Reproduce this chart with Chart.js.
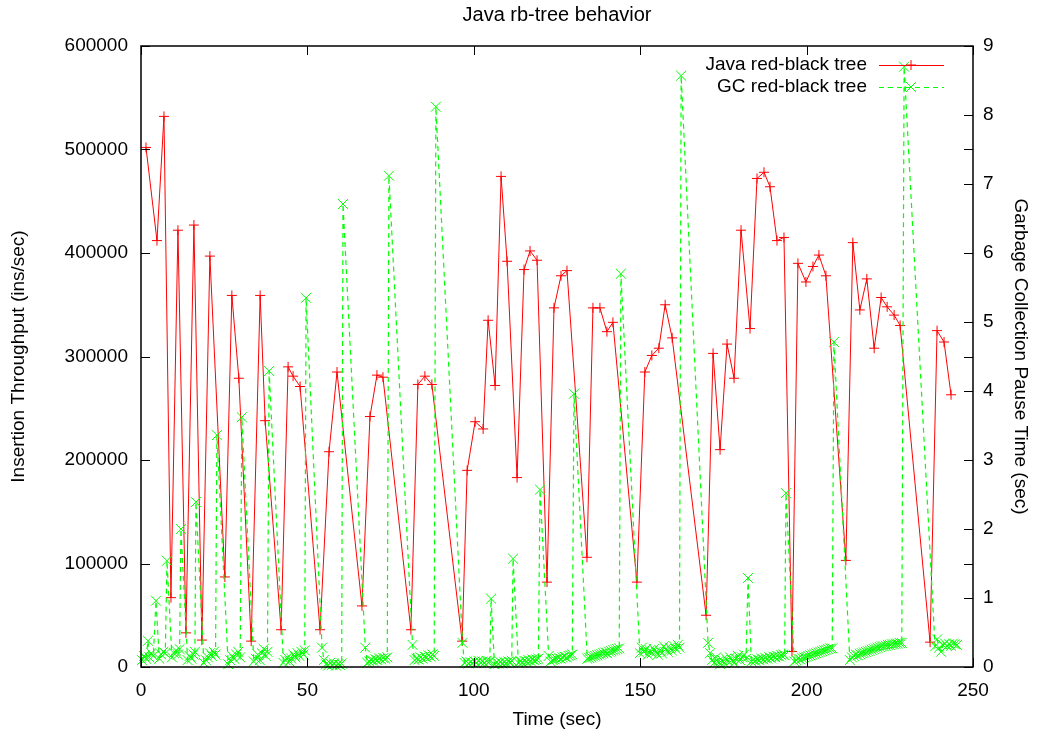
<!DOCTYPE html>
<html>
<head>
<meta charset="utf-8">
<script src="https://cdn.jsdelivr.net/npm/chart.js@4.4.1/dist/chart.umd.min.js"></script>
<style>
  html, body { margin: 0; padding: 0; background: #fff; }
  #wrap { width: 1039px; height: 731px; }
</style>
</head>
<body>
<div id="wrap"><canvas id="rbtree"></canvas></div>
<script>
// Java red-black tree: time (sec) and insertion throughput (ins/sec)
const javaTime = [1.5, 4.8, 6.9, 9.0, 11.1, 13.5, 15.9, 18.3, 20.7, 25.2, 27.3, 29.4, 33.1, 35.8, 37.3,
  42.1, 44.2, 45.7, 47.8, 53.8, 56.5, 58.9, 66.4, 68.8, 70.9, 72.7, 81.1, 83.2, 85.3, 87.4,
  96.5, 98.0, 100.4, 102.8, 104.3, 106.4, 108.2, 110.0, 113.0, 115.1, 116.9, 119.0, 122.0, 124.1, 126.2, 128.0,
  134.0, 135.8, 137.9, 140.0, 141.8, 149.0, 151.4, 153.5, 155.6, 157.5, 159.6,
  169.8, 171.9, 174.0, 176.1, 178.2, 180.3, 183.0, 185.1, 187.2, 189.0, 191.1, 193.2, 195.6, 197.4, 199.8,
  201.9, 203.7, 205.8, 211.8, 213.9, 216.0, 218.1, 220.3, 222.4, 224.2, 226.3, 228.1, 237.1, 239.2, 241.3, 243.4];
const javaThroughput = [502000, 412000, 532000, 67000, 422000, 33000, 427000, 26000, 397000, 87000, 359000, 279000, 25000, 359000, 238000,
  36000, 290000, 281000, 271000, 36000, 208000, 285000, 59000, 242000, 282000, 280000, 36000, 273000, 281000, 273000,
  25000, 190000, 237000, 230000, 335000, 272000, 474000, 392000, 183000, 384000, 402000, 393000, 82000, 347000, 378000, 383000,
  106000, 347000, 347000, 324000, 333000, 82000, 285000, 301000, 308000, 350000, 318000,
  50000, 303000, 210000, 312000, 279000, 422000, 327000, 472000, 478000, 464000, 412000, 415000, 15000, 390000, 372000,
  387000, 398000, 378000, 103000, 410000, 345000, 375000, 308000, 357000, 348000, 340000, 330000, 24000, 325000, 314000, 263000];

// GC red-black tree: time (sec) and pause time (sec)
const gcTime = [0.3, 0.9, 1.5, 2.1, 2.5, 3.1, 3.7, 4.5, 5.5, 6.1, 6.7, 7.3, 7.8,
  9.3, 9.9, 10.5, 11.1, 11.6, 12.0, 14.0, 14.6, 15.2, 15.8, 16.2, 16.5,
  18.9, 19.5, 20.1, 20.7, 21.3, 21.9, 22.4, 22.8, 26.2, 26.8, 27.4, 28.0, 28.6, 29.2, 29.8, 30.3,
  33.9, 34.5, 35.1, 35.7, 36.3, 36.9, 37.5, 38.0, 38.5,
  42.8, 43.4, 44.0, 44.6, 45.2, 45.8, 46.4, 47.0, 47.6, 48.2, 48.8, 49.2, 49.6,
  54.4, 55.0, 55.6, 56.2, 56.8, 57.4, 58.0, 58.6, 59.2, 59.8, 60.3, 60.7,
  67.4, 68.0, 68.6, 69.2, 69.8, 70.4, 71.0, 71.6, 72.2, 72.8, 73.4, 74.0, 74.5,
  81.6, 82.2, 82.8, 83.4, 84.0, 84.6, 85.2, 85.8, 86.4, 87.0, 87.6, 88.1, 88.6,
  96.6, 97.2, 97.8, 98.4, 99.0, 99.6, 100.2, 100.8, 101.4, 102.0, 102.6, 103.2, 103.8, 104.4, 104.8, 105.2,
  106.2, 106.8, 107.4, 108.0, 108.6, 109.2, 109.8, 110.4, 111.0, 111.4, 111.8,
  113.4, 114.0, 114.6, 115.2, 115.8, 116.4, 117.0, 117.6, 118.2, 118.8, 119.4, 119.9,
  122.5, 123.1, 123.7, 124.3, 124.9, 125.5, 126.1, 126.7, 127.3, 127.9, 128.5, 129.1, 129.6, 130.1,
  134.1, 134.7, 135.3, 135.9, 136.5, 137.1, 137.7, 138.3, 138.9, 139.5, 140.1, 140.7, 141.3, 141.9, 142.5, 143.1, 143.7, 144.2,
  149.9, 150.5, 151.1, 151.7, 152.3, 152.9, 153.5, 154.1, 154.7, 155.3, 155.9, 156.5, 157.1, 157.7, 158.3, 158.9, 159.5, 160.1, 160.7, 161.3, 161.8, 162.3,
  170.4, 171.0, 171.6, 172.2, 172.8, 173.4, 174.0, 174.6, 175.2, 175.8, 176.4, 177.0, 177.6, 178.2, 178.8, 179.4, 180.0, 180.6, 181.2, 181.8, 182.4,
  183.4, 184.0, 184.6, 185.2, 185.8, 186.4, 187.0, 187.6, 188.2, 188.8, 189.4, 190.0, 190.6, 191.2, 191.8, 192.4, 193.0, 193.4, 193.8,
  196.3, 196.9, 197.5, 198.1, 198.7, 199.3, 199.9, 200.5, 201.1, 201.7, 202.3, 202.9, 203.5, 204.1, 204.7, 205.3, 205.9, 206.5, 207.1, 207.7, 208.2,
  213.0, 213.6, 214.2, 214.8, 215.4, 216.0, 216.6, 217.2, 217.8, 218.4, 219.0, 219.6, 220.2, 220.8, 221.4, 222.0, 222.6, 223.2, 223.8, 224.4, 225.0, 225.6, 226.2, 226.8, 227.4, 228.0, 228.6, 229.3,
  238.6, 239.2, 239.8, 240.4, 241.0, 241.6, 242.2, 242.8, 243.4, 244.0, 244.6, 245.2];
const gcPause = [0.10, 0.16, 0.12, 0.38, 0.14, 0.20, 0.16, 0.96, 0.12, 0.18, 0.22, 0.20, 1.54,
  0.14, 0.20, 0.24, 0.18, 0.26, 2.00, 0.10, 0.16, 0.12, 0.18, 0.22, 2.39,
  0.06, 0.10, 0.14, 0.20, 0.16, 0.22, 0.18, 3.36, 0.04, 0.10, 0.16, 0.12, 0.18, 0.22, 0.14, 3.62,
  0.08, 0.12, 0.18, 0.10, 0.20, 0.26, 0.16, 0.22, 4.29,
  0.06, 0.10, 0.14, 0.08, 0.12, 0.18, 0.14, 0.20, 0.16, 0.22, 0.18, 0.24, 5.35,
  0.28, 0.10, 0.04, 0.02, 0.06, 0.03, 0.05, 0.02, 0.04, 0.03, 0.05, 6.71,
  0.28, 0.06, 0.08, 0.10, 0.09, 0.11, 0.10, 0.12, 0.11, 0.13, 0.12, 0.14, 7.12,
  0.32, 0.10, 0.12, 0.11, 0.14, 0.12, 0.15, 0.14, 0.17, 0.15, 0.18, 0.16, 8.12,
  0.35, 0.06, 0.08, 0.05, 0.07, 0.06, 0.08, 0.06, 0.09, 0.07, 0.08, 0.06, 0.09, 0.07, 0.08, 0.99,
  0.04, 0.06, 0.05, 0.07, 0.05, 0.07, 0.06, 0.08, 0.07, 0.09, 1.57,
  0.06, 0.08, 0.07, 0.09, 0.08, 0.10, 0.09, 0.11, 0.10, 0.11, 0.12, 2.57,
  0.16, 0.08, 0.10, 0.11, 0.12, 0.13, 0.12, 0.14, 0.15, 0.14, 0.16, 0.17, 0.18, 3.96,
  0.12, 0.13, 0.14, 0.15, 0.16, 0.17, 0.18, 0.19, 0.20, 0.21, 0.20, 0.22, 0.23, 0.24, 0.25, 0.26, 0.27, 5.70,
  0.20, 0.28, 0.22, 0.26, 0.18, 0.24, 0.20, 0.26, 0.22, 0.18, 0.24, 0.20, 0.30, 0.26, 0.22, 0.28, 0.24, 0.30, 0.26, 0.32, 0.28, 8.57,
  0.35, 0.20, 0.10, 0.06, 0.14, 0.08, 0.04, 0.10, 0.06, 0.12, 0.08, 0.14, 0.10, 0.06, 0.12, 0.16, 0.10, 0.14, 0.18, 0.12, 1.29,
  0.08, 0.10, 0.09, 0.11, 0.10, 0.12, 0.11, 0.13, 0.12, 0.14, 0.13, 0.15, 0.14, 0.16, 0.15, 0.17, 0.18, 0.17, 2.52,
  0.08, 0.10, 0.12, 0.11, 0.13, 0.14, 0.15, 0.16, 0.17, 0.18, 0.19, 0.20, 0.21, 0.22, 0.23, 0.24, 0.25, 0.26, 0.27, 0.27, 4.71,
  0.10, 0.14, 0.16, 0.18, 0.17, 0.19, 0.20, 0.21, 0.22, 0.23, 0.24, 0.25, 0.26, 0.27, 0.28, 0.29, 0.30, 0.30, 0.31, 0.32, 0.32, 0.33, 0.33, 0.34, 0.34, 0.35, 0.35, 8.70,
  0.30, 0.40, 0.28, 0.22, 0.32, 0.34, 0.30, 0.33, 0.31, 0.34, 0.33, 0.32];

const TITLE = 'Java rb-tree behavior';
const FONT = 'Liberation Sans, Arial, Helvetica, sans-serif';
const TXT = '#000';

const javaPoints = javaTime.map((t, i) => ({ x: t, y: javaThroughput[i] }));
const gcPoints = gcTime.map((t, i) => ({ x: t, y: gcPause[i] }));

// gnuplot style frame with inward ticks on every side, title over the plot, key in the corner
const framePlugin = {
  id: 'frame',
  afterDatasetsDraw(chart) {
    const { ctx, chartArea: a, scales } = chart;
    const len = 9;
    ctx.save();
    ctx.strokeStyle = '#000';
    ctx.lineWidth = 1;
    ctx.beginPath();
    scales.x.ticks.forEach(t => {
      const px = Math.round(scales.x.getPixelForValue(t.value)) + 0.5;
      ctx.moveTo(px, a.bottom); ctx.lineTo(px, a.bottom - len);
      ctx.moveTo(px, a.top); ctx.lineTo(px, a.top + len);
    });
    scales.y.ticks.forEach(t => {
      const py = Math.round(scales.y.getPixelForValue(t.value)) + 0.5;
      ctx.moveTo(a.left, py); ctx.lineTo(a.left + len, py);
      ctx.moveTo(a.right, py); ctx.lineTo(a.right - len, py);
    });
    scales.y2.ticks.forEach(t => {
      const py = Math.round(scales.y2.getPixelForValue(t.value)) + 0.5;
      ctx.moveTo(a.right, py); ctx.lineTo(a.right - len, py);
    });
    ctx.stroke();
    ctx.lineWidth = 1.5;
    ctx.strokeRect(a.left, a.top, a.right - a.left, a.bottom - a.top);
    ctx.restore();
  },
  afterDraw(chart) {
    const { ctx, chartArea: a } = chart;
    ctx.save();
    ctx.fillStyle = TXT;
    ctx.font = '20px ' + FONT;
    ctx.textAlign = 'center';
    ctx.textBaseline = 'middle';
    ctx.fillText(TITLE, (a.left + a.right) / 2, 15);

    const rows = [
      { label: 'Java red-black tree', color: '#ff0000', dash: [], style: 'cross', r: 5, y: 65 },
      { label: 'GC red-black tree', color: '#00ff00', dash: [5, 4], style: 'crossRot', r: 7, y: 87 }
    ];
    ctx.font = '19px ' + FONT;
    ctx.textAlign = 'right';
    rows.forEach(r => {
      ctx.fillStyle = TXT;
      ctx.fillText(r.label, 867, r.y);
      ctx.strokeStyle = r.color;
      ctx.lineWidth = 1;
      ctx.setLineDash(r.dash);
      ctx.beginPath();
      ctx.moveTo(879, r.y + 0.5); ctx.lineTo(944, r.y + 0.5);
      ctx.stroke();
      ctx.setLineDash([]);
      Chart.helpers.drawPoint(ctx, { pointStyle: r.style, radius: r.r, rotation: 0, borderWidth: 1 }, 911, r.y);
    });
    ctx.restore();
  }
};

const plain = v => String(v);

new Chart(document.getElementById('rbtree'), {
  type: 'line',
  data: {
    datasets: [
      {
        label: 'Java red-black tree',
        data: javaPoints,
        yAxisID: 'y',
        borderColor: '#ff0000',
        backgroundColor: '#ff0000',
        borderWidth: 1,
        pointStyle: 'cross',
        pointRadius: 5,
        pointBorderWidth: 1,
        tension: 0,
        clip: 10,
        order: 2
      },
      {
        label: 'GC red-black tree',
        data: gcPoints,
        yAxisID: 'y2',
        borderColor: '#00ff00',
        backgroundColor: '#00ff00',
        borderWidth: 1.2,
        borderDash: [5, 4],
        pointStyle: 'crossRot',
        pointRadius: 7,
        pointBorderWidth: 1,
        tension: 0,
        clip: 10,
        order: 1
      }
    ]
  },
  options: {
    responsive: true,
    maintainAspectRatio: false,
    animation: false,
    layout: { padding: { top: 46 } },
    plugins: {
      legend: { display: false },
      tooltip: { enabled: false },
      title: { display: false }
    },
    scales: {
      x: {
        type: 'linear',
        min: 0, max: 250,
        grid: { display: false, drawTicks: false },
        border: { display: false },
        ticks: { stepSize: 50, color: TXT, padding: 12, font: { family: FONT, size: 19 }, callback: plain },
        title: { display: true, text: 'Time (sec)', color: TXT, font: { family: FONT, size: 19 }, padding: 0 },
        afterFit(s) { s.height = 64; }
      },
      y: {
        position: 'left',
        min: 0, max: 600000,
        grid: { display: false, drawTicks: false },
        border: { display: false },
        ticks: { stepSize: 100000, color: TXT, padding: 13, font: { family: FONT, size: 19 }, callback: plain },
        title: { display: true, text: 'Insertion Throughput (ins/sec)', color: TXT, font: { family: FONT, size: 19 }, padding: { top: 7 } },
        afterFit(s) { s.width = 141; }
      },
      y2: {
        position: 'right',
        min: 0, max: 9,
        grid: { display: false, drawTicks: false },
        border: { display: false },
        ticks: { stepSize: 1, color: TXT, padding: 10, font: { family: FONT, size: 19 }, callback: plain },
        title: { display: true, text: 'Garbage Collection Pause Time (sec)', color: TXT, font: { family: FONT, size: 19 }, padding: { top: 7 } },
        afterFit(s) { s.width = 66; }
      }
    }
  },
  plugins: [framePlugin]
});
</script>
</body>
</html>
